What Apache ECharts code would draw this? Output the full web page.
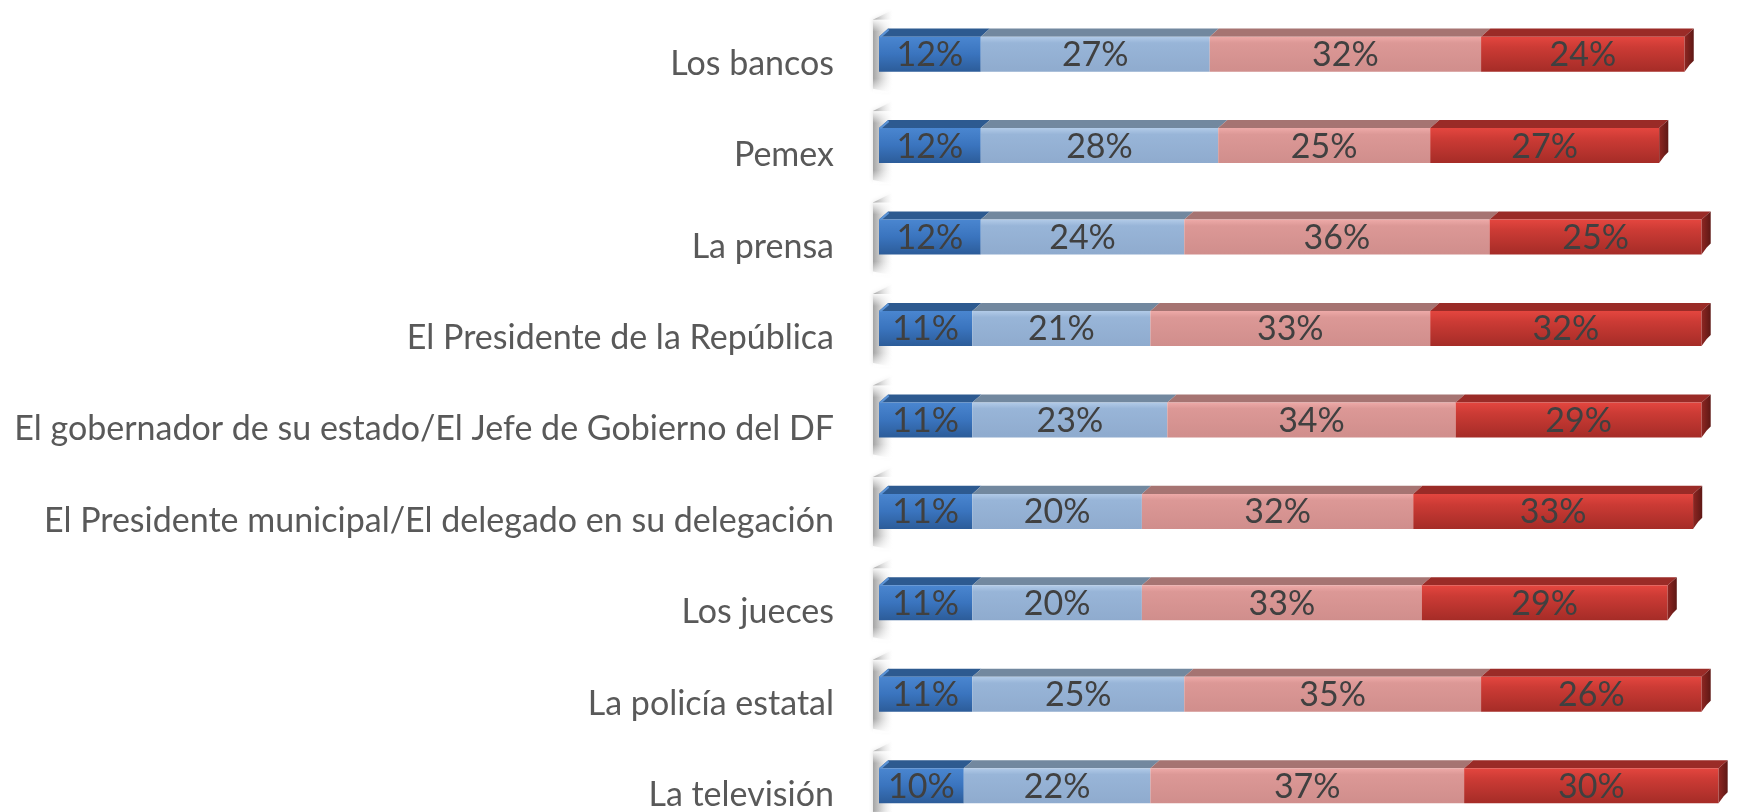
<!DOCTYPE html>
<html>
<head>
<meta charset="utf-8">
<script src="https://cdn.jsdelivr.net/npm/echarts@6/dist/echarts.min.js"></script>
<style>
html,body{margin:0;padding:0;background:#fff;}
#chart{width:1752px;height:812px;}
</style>
</head>
<body>
<div id="chart"></div>
<script>
const categories = ['Los bancos','Pemex','La prensa','El Presidente de la República','El gobernador de su estado/El Jefe de Gobierno del DF','El Presidente municipal/El delegado en su delegación','Los jueces','La policía estatal','La televisión'];
const seriesNames = ['Mucha','Algo','Poca','Nada'];
const mucha = [12,12,12,11,11,11,11,11,10];
const algo  = [27,28,24,21,23,20,20,25,22];
const poca  = [32,25,36,33,34,32,33,35,37];
const nada  = [24,27,25,32,29,33,29,26,30];
const values = [mucha, algo, poca, nada];

const styles = [
  {front:[['#4a86d0',0],['#3a74be',0.5],['#2c5c99',1]], top:'#2d5a90'},
  {front:[['#b2cbe8',0],['#98b5d8',0.18],['#8fabce',1]], top:'#72889f'},
  {front:[['#eeaaa8',0],['#dc9896',0.18],['#d08e8c',1]], top:'#a67472'},
  {front:[['#e4463f',0],['#cc3b35',0.3],['#a52c27',1]], top:'#9a2b27'}
];

function grad(stops){
  return new echarts.graphic.LinearGradient(0,0,0,1, stops.map(s=>({offset:s[1], color:s[0]})));
}

function geom(api, c){
  const band = api.size([0, 1])[1];
  const cy = api.coord([0, c])[1];
  const fTop = cy - 0.296 * band;
  const fBot = fTop + 0.383 * band;
  return {band, fTop, fBot, d: 0.088 * band, dx: 0.1 * band};
}

const series = values.map((arr, si) => {
  const data = arr.map((v, ci) => {
    let start = 0;
    for (let k = 0; k < si; k++) start += values[k][ci];
    return [start, start + v, ci, v];
  });
  return {
    type: 'custom',
    name: seriesNames[si],
    encode: {x: [0, 1], y: 2},
    data: data,
    z: 10 + si,
    renderItem: function(params, api){
      const s = api.value(0), e = api.value(1), c = api.value(2), v = api.value(3);
      const x0 = api.coord([s, c])[0];
      const x1 = api.coord([e, c])[0];
      const g = geom(api, c);
      const fTop = g.fTop, fBot = g.fBot, d = g.d, dx = g.dx;
      const st = styles[si];
      const children = [];
      children.push({
        type: 'polygon',
        shape: {points: [[x0, fTop], [x1, fTop], [x1 + dx, fTop - d], [x0 + dx, fTop - d]]},
        style: {fill: st.top}
      });
      children.push({
        type: 'rect',
        shape: {x: x0, y: fTop, width: x1 - x0, height: fBot - fTop},
        style: {fill: grad(st.front)}
      });
      if (si === 0) {
        children.push({
          type: 'polygon',
          shape: {points: [[x0, fTop], [x0 + dx, fTop - d], [x0 + dx + 1, fTop - d + 2], [x0 + 2, fTop + 1]]},
          style: {fill: '#5b93d6'}
        });
      }
      if (si === values.length - 1) {
        children.push({
          type: 'polygon',
          shape: {points: [[x1, fTop], [x1 + dx, fTop - d], [x1 + dx, fBot - d - 3], [x1 + dx - 4, fBot - d + 1], [x1, fBot]]},
          style: {fill: new echarts.graphic.LinearGradient(0,0,1,0,[{offset:0,color:'#8e2622'},{offset:1,color:'#5e1815'}])}
        });
      }
      children.push({
        type: 'text',
        style: {
          x: (x0 + x1) / 2,
          y: (fTop + fBot) / 2 + 1,
          text: v + '%',
          fill: '#404040',
          font: '34px Lato',
          align: 'center',
          verticalAlign: 'middle'
        }
      });
      return {type: 'group', children: children};
    }
  };
});

// wall shadow behind each bar (follows the category positions)
series.unshift({
  type: 'custom',
  name: 'wall',
  encode: {x: 0, y: 1},
  data: categories.map((c, i) => [0, i]),
  z: 1,
  silent: true,
  renderItem: function(params, api){
    const c = api.value(1);
    const x0 = api.coord([0, c])[0];
    const g = geom(api, c);
    const top = g.fTop - 27, bot = g.fBot + 21;
    return {
      type: 'group',
      children: [
        {
          type: 'polygon',
          shape: {points: [[x0 - 6, top + 10], [x0 + 14, top], [x0 + 14, bot], [x0 - 6, bot - 4]]},
          style: {fill: new echarts.graphic.LinearGradient(0,0,1,0,[
            {offset:0,color:'rgba(150,150,150,0.85)'},
            {offset:0.3,color:'rgba(170,170,170,0.55)'},
            {offset:1,color:'rgba(255,255,255,0)'}]),
            shadowBlur: 4, shadowColor: 'rgba(0,0,0,0.15)'}
        },
        {
          type: 'rect',
          shape: {x: x0 - 6, y: top + 10, width: 20, height: 12},
          style: {fill: new echarts.graphic.LinearGradient(0,0,0,1,[
            {offset:0,color:'rgba(255,255,255,0.9)'},{offset:1,color:'rgba(255,255,255,0)'}])}
        },
        {
          type: 'rect',
          shape: {x: x0 - 6, y: bot - 14, width: 20, height: 14},
          style: {fill: new echarts.graphic.LinearGradient(0,0,0,1,[
            {offset:0,color:'rgba(255,255,255,0)'},{offset:1,color:'rgba(255,255,255,0.9)'}])}
        }
      ]
    };
  }
});

const chart = echarts.init(document.getElementById('chart'), null, {renderer: 'canvas'});
chart.setOption({
  animation: false,
  backgroundColor: '#ffffff',
  grid: {left: 879, top: 18, width: 848, height: 823, containLabel: false, outerBoundsMode: 'none'},
  xAxis: {type: 'value', min: 0, max: 100, show: false, splitLine: {show: false}},
  yAxis: {
    type: 'category',
    inverse: true,
    data: categories,
    axisTick: {show: false},
    axisLine: {show: false},
    axisLabel: {fontFamily: 'Lato', fontSize: 34, color: '#595959', margin: 45}
  },
  series: series
});
</script>
</body>
</html>
